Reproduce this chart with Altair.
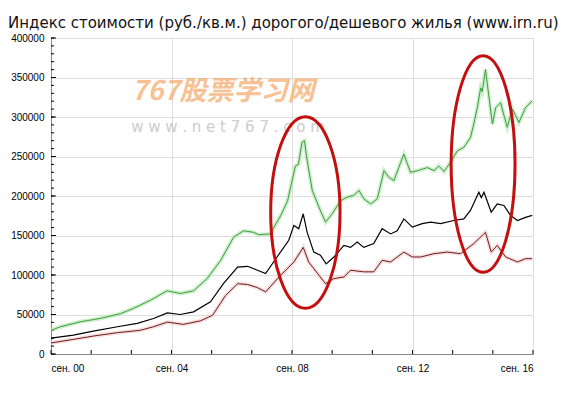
import altair as alt
import pandas as pd

TITLE = "Индекс стоимости (руб./кв.м.) дорогого/дешевого жилья (www.irn.ru)"

# Expensive housing (green)
exp_year = [2000.67, 2000.98, 2001.64, 2002.30, 2002.97, 2003.40, 2003.97, 2004.52, 2004.96, 2005.40,
            2005.85, 2006.30, 2006.73, 2007.06, 2007.39, 2007.56, 2007.96, 2008.06, 2008.29, 2008.52,
            2008.78, 2008.88, 2009.00, 2009.08, 2009.17, 2009.34, 2009.56, 2009.78, 2010.00, 2010.28,
            2010.50, 2010.71, 2010.89, 2011.05, 2011.28, 2011.50, 2011.72, 2011.88, 2012.05, 2012.21,
            2012.38, 2012.60, 2012.83, 2013.16, 2013.38, 2013.54, 2013.71, 2013.93, 2014.15, 2014.37,
            2014.59, 2014.70, 2014.82, 2014.93, 2014.98, 2015.09, 2015.15, 2015.32, 2015.43, 2015.59,
            2015.81, 2015.98, 2016.20, 2016.42, 2016.64]
exp_value = [30000, 34500, 40800, 45000, 51000, 57700, 68000, 80000, 76600, 80000,
             95500, 118600, 148000, 156000, 154000, 151000, 152000, 160000, 175000, 194000,
             238000, 240000, 268000, 270000, 245000, 207000, 186000, 167000, 177500, 194000,
             198500, 200600, 207000, 196500, 190000, 196500, 232000, 223700, 219500, 236000,
             253000, 230000, 232000, 236000, 232000, 238000, 231000, 242600, 257000, 261600,
             274000, 291000, 312000, 337000, 332000, 360000, 341600, 291000, 312000, 318000,
             287000, 310000, 293000, 312000, 320500]

# Average (black)
avg_year = [2000.67, 2001.41, 2002.07, 2002.87, 2003.53, 2004.07, 2004.53, 2004.96, 2005.40, 2005.96,
            2006.39, 2006.86, 2007.19, 2007.52, 2007.79, 2008.17, 2008.56, 2008.73, 2008.89, 2009.04,
            2009.17, 2009.39, 2009.61, 2009.80, 2010.06, 2010.39, 2010.61, 2010.83, 2011.05, 2011.38,
            2011.66, 2011.94, 2012.16, 2012.38, 2012.66, 2012.99, 2013.27, 2013.60, 2014.04, 2014.37,
            2014.59, 2014.87, 2014.95, 2015.04, 2015.28, 2015.48, 2015.70, 2015.92, 2016.15, 2016.42,
            2016.64]
avg_value = [20000, 24000, 29000, 34500, 38700, 45000, 52000, 50000, 53400, 66000,
             89000, 110000, 111000, 106000, 101800, 122800, 144000, 162800, 158600, 177500,
             154000, 129000, 125000, 114000, 122800, 137500, 135000, 141700, 135000, 139700,
             158600, 152000, 156000, 171000, 160600, 165000, 167000, 165000, 169000, 171000,
             181700, 204800, 198000, 204800, 179600, 190000, 188000, 175400, 169000, 173000,
             175400]

# Cheap housing (dark red)
chp_year = [2000.67, 2001.41, 2002.07, 2002.87, 2003.63, 2004.07, 2004.53, 2005.06, 2005.63, 2006.03,
            2006.46, 2006.86, 2007.19, 2007.52, 2007.79, 2008.29, 2008.73, 2009.04, 2009.22, 2009.78,
            2010.06, 2010.39, 2010.61, 2011.05, 2011.38, 2011.66, 2011.94, 2012.38, 2012.66, 2012.94,
            2013.38, 2013.82, 2014.26, 2014.70, 2015.09, 2015.28, 2015.48, 2015.76, 2016.15, 2016.42,
            2016.64]
chp_value = [14000, 18500, 22700, 27000, 30000, 34500, 40400, 37500, 42000, 49000,
             74000, 89000, 88000, 84000, 78600, 99700, 116500, 135000, 116500, 89000,
             95500, 97500, 106000, 104000, 104000, 118600, 116500, 129000, 122800, 122800,
             127000, 129000, 127000, 139700, 154000, 129000, 137500, 122800, 116500, 120700,
             120700]

x_major = [2000 + 8 / 12, 2004 + 8 / 12, 2008 + 8 / 12, 2012 + 8 / 12, 2016 + 8 / 12]
x_minor = [2000 + 8 / 12 + 16 / 12 * k for k in range(13)]
y_major = [0, 50000, 100000, 150000, 200000, 250000, 300000, 350000, 400000]
y_minor = [10000 * k for k in range(41)]

# Highlight ellipses: centre (year, value)
ell_year = [2009.11, 2015.01]
ell_value = [179100, 240500]

W, H = 482, 316

xs = alt.Scale(domain=[x_major[0], x_major[-1]], nice=False, zero=False)
ys = alt.Scale(domain=[0, 400000], nice=False)

X_AXIS = alt.Axis(values=x_major, grid=True, ticks=False, tickSize=0, labelPadding=9,
                  labelExpr="'сен. ' + slice(toString(floor(datum.value + 0.01)), 2)")
Y_AXIS = alt.Axis(values=y_major, grid=True, ticks=False, tickSize=0, labelPadding=7, format="d")

def X():
    return alt.X("year:Q", scale=xs, title=None, axis=X_AXIS)

def Y():
    return alt.Y("value:Q", scale=ys, title=None, axis=Y_AXIS)

def series(year, value):
    return pd.DataFrame({"year": year, "value": value})

y_minor_ticks = alt.Chart(pd.DataFrame({"value": y_minor})).mark_rule(color="black", strokeWidth=1).encode(
    y=Y(), x=alt.value(0), x2=alt.value(3))
y_major_ticks = alt.Chart(pd.DataFrame({"value": y_major})).mark_rule(color="black").encode(
    y=Y(), x=alt.value(0), x2=alt.value(5))
x_ticks = alt.Chart(pd.DataFrame({"year": x_minor})).mark_rule(color="black").encode(
    x=X(), y=alt.value(H), y2=alt.value(H - 4))

def line(df, color, width, opacity=1.0):
    return alt.Chart(df).mark_line(color=color, strokeWidth=width, opacity=opacity).encode(x=X(), y=Y())

g = series(exp_year, exp_value)
b = series(avg_year, avg_value)
r = series(chp_year, chp_value)

lines = [
    line(g, "#b9e8b9", 4, 0.7),
    line(r, "#f3d0d0", 4, 0.7),
    line(g, "#3d9e3d", 1),
    line(b, "#000000", 1.2),
    line(r, "#6e1c1c", 1),
]

ell1 = alt.Chart(pd.DataFrame({"year": ell_year[:1], "value": ell_value[:1]})).mark_point(
    shape="M -0.362 0 A 0.362 1 0 1 1 0.362 0 A 0.362 1 0 1 1 -0.362 0 Z",
    filled=False, stroke="#c40f0f", strokeWidth=3, opacity=1, size=36711,
).encode(x=X(), y=Y())

ell2 = alt.Chart(pd.DataFrame({"year": ell_year[1:], "value": ell_value[1:]})).mark_point(
    shape="M -0.295 0 A 0.295 1 0 1 1 0.295 0 A 0.295 1 0 1 1 -0.295 0 Z",
    filled=False, stroke="#c40f0f", strokeWidth=3, opacity=1, size=46916,
).encode(x=X(), y=Y())

one = pd.DataFrame({"a": [0]})
title = alt.Chart(one).mark_text(
    text=TITLE, align="left", baseline="alphabetic", fontSize=15, font="DejaVu Sans", color="#111111"
).encode(x=alt.value(-43), y=alt.value(-10))

wm1 = alt.Chart(one).mark_text(
    text="767股票学习网", align="center", baseline="middle", fontSize=27, font="Noto Sans CJK SC",
    fontWeight="bold", fontStyle="italic", color="#f4a766", opacity=0.7
).encode(x=alt.value(172), y=alt.value(54))
wm2 = alt.Chart(one).mark_text(
    text="w w w . n e t 7 6 7 . c o m", align="center", baseline="middle", fontSize=15,
    font="DejaVu Sans", color="#c8c8c8", opacity=0.9
).encode(x=alt.value(177), y=alt.value(89))

chart = alt.layer(y_minor_ticks, y_major_ticks, x_ticks, wm1, wm2, *lines, ell1, ell2, title).properties(
    width=W, height=H,
    autosize=alt.AutoSizeParams(type="none"),
    padding={"left": 43, "top": 30, "right": 30, "bottom": 30},
).configure_view(stroke=None).configure_axis(
    domainColor="#000000", domainWidth=1, gridColor="#d6d6d6", gridWidth=1,
    labelFont="Liberation Sans", labelFontSize=11, labelColor="#000000",
).configure(background="white")

chart.save("out.html", embed_options={"renderer": "svg", "actions": False})
